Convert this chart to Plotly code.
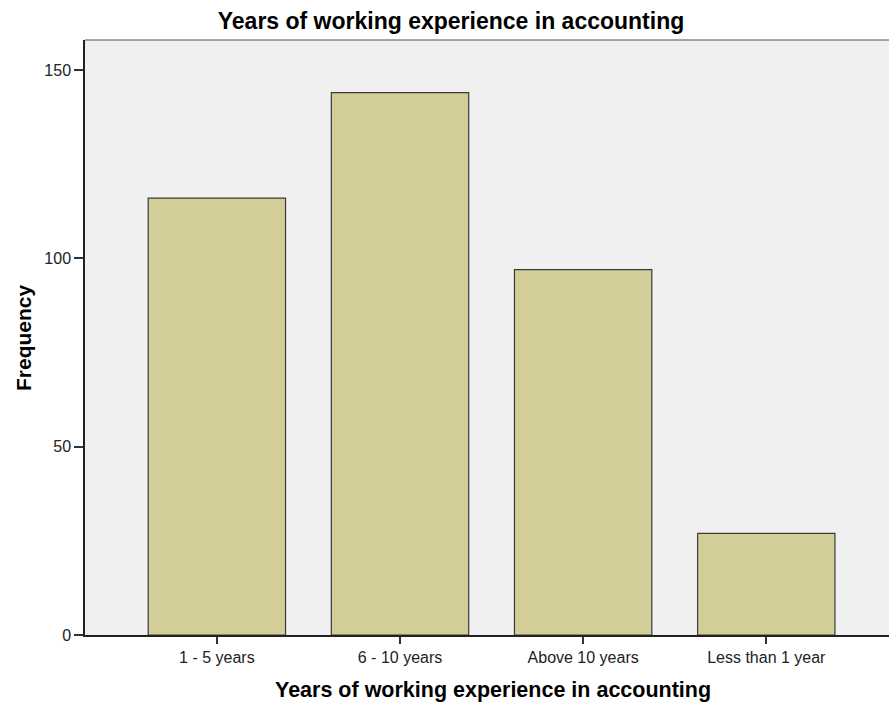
import plotly.graph_objects as go

categories = ["1 - 5 years", "6 - 10 years", "Above 10 years", "Less than 1 year"]
frequency = [116, 144, 97, 27]
y_ticks = [0, 50, 100, 150]

title_text = "Years of working experience in accounting"
x_title = "Years of working experience in accounting"
y_title = "Frequency"

FONT = "Arial, Liberation Sans, sans-serif"

fig = go.Figure(go.Bar(
    x=categories, y=frequency, width=0.75,
    marker=dict(color="#D3CE97", line=dict(color="#3a3a3a", width=1.2)),
))

fig.update_layout(
    width=889, height=704,
    margin=dict(l=85, r=0, t=40, b=69),
    paper_bgcolor="white", plot_bgcolor="#F0F0F0",
    showlegend=False,
    title=dict(text="<b>" + title_text + "</b>", x=451 / 889, xanchor="center",
               y=1 - 21 / 704, yanchor="middle", yref="container",
               font=dict(family=FONT, size=23, color="black")),
    font=dict(family=FONT, size=16, color="#222"),
    xaxis=dict(range=[-0.72, 3.67], showgrid=False, zeroline=False,
               showline=True, linecolor="#222", linewidth=1.5,
               ticks="outside", ticklen=7, tickwidth=1.5, tickcolor="#333",
               tickfont=dict(family=FONT, size=16, color="#222")),
    yaxis=dict(range=[0, 158], showgrid=False, zeroline=False,
               showline=True, linecolor="#222", linewidth=1.5,
               tickvals=y_ticks, ticks="outside", ticklen=9, tickwidth=1.5,
               tickcolor="#333",
               tickfont=dict(family=FONT, size=16, color="#222")),
    shapes=[dict(type="line", xref="paper", yref="paper", x0=0, x1=1, y0=1, y1=1,
                 line=dict(color="#888", width=1.5))],
    annotations=[
        dict(text="<b>" + x_title + "</b>", xref="paper", yref="paper",
             x=(492.5 - 85) / 804, y=-(690 - 635) / 595, xanchor="center", yanchor="middle",
             showarrow=False, font=dict(family=FONT, size=21.5, color="black")),
        dict(text="<b>" + y_title + "</b>", xref="paper", yref="paper",
             x=-(85 - 23.5) / 804, y=(635 - 337.5) / 595, xanchor="center", yanchor="middle",
             textangle=-90, showarrow=False, font=dict(family=FONT, size=21, color="black")),
    ],
)

fig.write_html("out.html", config={"displayModeBar": False},
               post_script="document.body.style.margin='0';document.body.style.padding='0';"
                           "document.body.style.overflow='hidden';")
